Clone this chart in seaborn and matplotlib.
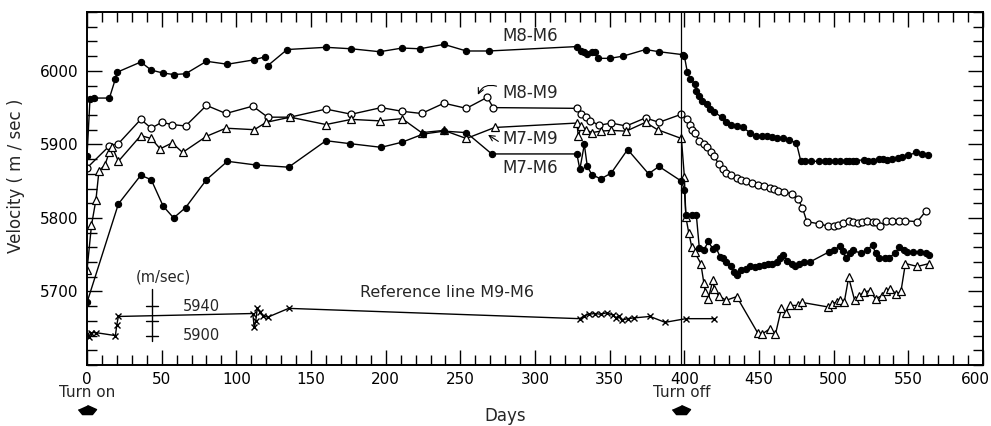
import numpy as np
import pandas as pd
import matplotlib
matplotlib.use('Agg')
import matplotlib.pyplot as plt
from matplotlib.ticker import MultipleLocator
from matplotlib.transforms import ScaledTranslation
import seaborn as sns

# Velocity (m/sec) between gauges vs days after turn on
m8m6_days = [0, 2, 5, 15, 19, 20, 36, 43, 51, 58, 66, 80, 94, 112, 119,
             121, 134, 160, 177, 196, 211, 223, 239, 254, 269,
             328, 331, 333, 335, 338, 340, 342, 350, 359, 374,
             383, 399, 400, 402, 404, 407, 408, 410, 412, 415,
             417, 420, 425, 428, 431, 435, 439, 444, 448, 452,
             455, 459, 462, 466, 470, 475, 478, 481, 485, 490,
             494, 497, 501, 504, 508, 510, 513, 515, 520, 523,
             526, 530, 533, 536, 539, 543, 546, 550, 555, 559, 563]
m8m6_vel = [5884, 5962, 5963, 5963, 5989, 5998, 6012, 6001, 5997, 5995, 5996, 6013, 6009, 6015, 6019,
            6007, 6029, 6032, 6030, 6026, 6031, 6030, 6036, 6027, 6027,
            6033, 6027, 6026, 6023, 6025, 6026, 6017, 6017, 6020, 6029,
            6026, 6022, 6020, 5998, 5989, 5982, 5973, 5966, 5959, 5955,
            5948, 5944, 5937, 5930, 5927, 5925, 5923, 5916, 5911, 5912,
            5911, 5910, 5909, 5909, 5906, 5902, 5877, 5877, 5877, 5877,
            5878, 5877, 5878, 5878, 5877, 5877, 5878, 5878, 5879, 5878,
            5878, 5880, 5880, 5879, 5880, 5882, 5883, 5885, 5889, 5887, 5886]
m8m6_break = 121  # line restarts here

m8m9_days = [0, 15, 21, 36, 43, 50, 57, 66, 80, 93,
             111, 121, 136, 160, 177, 197, 211, 224, 239, 254,
             268, 272, 328, 331, 334, 337, 343, 351, 361, 374,
             383, 398, 402, 404, 405, 407, 410, 413, 415, 418,
             420, 423, 426, 428, 431, 435, 438, 441, 445, 449,
             453, 457, 460, 463, 467, 472, 476, 479, 482, 490,
             496, 500, 503, 506, 510, 513, 516, 519, 522, 526,
             528, 531, 535, 539, 544, 548, 556, 562]
m8m9_vel = [5868, 5898, 5901, 5934, 5922, 5930, 5927, 5925, 5953, 5942,
            5952, 5937, 5937, 5948, 5941, 5950, 5945, 5942, 5956, 5949,
            5964, 5950, 5949, 5941, 5937, 5932, 5926, 5929, 5925, 5936,
            5930, 5941, 5934, 5927, 5920, 5916, 5904, 5900, 5896, 5890,
            5884, 5873, 5866, 5861, 5858, 5854, 5852, 5850, 5848, 5845,
            5843, 5841, 5839, 5836, 5835, 5833, 5826, 5814, 5795, 5792,
            5789, 5789, 5791, 5793, 5796, 5794, 5793, 5795, 5796, 5794,
            5795, 5789, 5796, 5796, 5796, 5796, 5795, 5810]

m7m9_days = [0, 3, 6, 8, 12, 15, 17, 21, 36, 43,
             49, 57, 64, 80, 93, 112, 120, 136, 160, 177,
             196, 211, 224, 239, 254, 273, 328, 329, 331, 334,
             338, 344, 351, 361, 374, 382, 398, 400, 401, 403,
             405, 407, 411, 413, 414, 416, 419, 420, 423, 428,
             435, 449, 452, 457, 461, 465, 468, 471, 476, 479,
             496, 499, 502, 504, 507, 510, 514, 517, 520, 524,
             528, 532, 535, 538, 542, 545, 548, 556, 564]
m7m9_vel = [5729, 5790, 5825, 5864, 5872, 5890, 5896, 5877, 5912, 5908,
            5894, 5902, 5889, 5911, 5922, 5920, 5930, 5937, 5927, 5934,
            5932, 5935, 5916, 5919, 5908, 5923, 5929, 5911, 5925, 5920,
            5916, 5918, 5919, 5918, 5930, 5920, 5908, 5856, 5801, 5779,
            5760, 5753, 5738, 5712, 5699, 5690, 5715, 5703, 5694, 5688,
            5693, 5644, 5642, 5649, 5642, 5677, 5671, 5681, 5681, 5685,
            5679, 5683, 5686, 5689, 5685, 5719, 5688, 5694, 5699, 5701,
            5690, 5694, 5700, 5704, 5696, 5700, 5738, 5734, 5738]

m7m6_days = [0, 21, 36, 43, 51, 58, 66, 80, 94, 113,
             135, 160, 176, 197, 211, 225, 239, 254, 271, 328,
             330, 333, 335, 338, 344, 351, 362, 376, 383, 398,
             400, 401, 405, 408, 410, 413, 416, 419, 421, 424,
             426, 428, 431, 433, 435, 438, 441, 444, 447, 450,
             453, 456, 459, 462, 464, 466, 469, 472, 474, 477,
             480, 484, 497, 500, 504, 506, 508, 511, 513, 518,
             522, 526, 528, 530, 534, 537, 541, 544, 547, 549,
             553, 558, 562, 564]
m7m6_vel = [5685, 5819, 5858, 5852, 5816, 5800, 5814, 5852, 5877, 5872,
            5869, 5905, 5901, 5896, 5903, 5914, 5918, 5916, 5887, 5887,
            5866, 5900, 5870, 5859, 5853, 5861, 5893, 5860, 5870, 5850,
            5838, 5804, 5804, 5804, 5759, 5756, 5768, 5758, 5760, 5747,
            5745, 5740, 5735, 5727, 5723, 5729, 5731, 5734, 5733, 5735,
            5736, 5737, 5737, 5740, 5745, 5749, 5742, 5738, 5735, 5737,
            5740, 5740, 5754, 5756, 5762, 5755, 5745, 5752, 5756, 5752,
            5756, 5763, 5752, 5746, 5746, 5746, 5752, 5760, 5756, 5754,
            5754, 5754, 5752, 5750]

# reference line M9-M6, read against its own small scale
ref_days = [0, 1, 3, 6, 19, 20, 21, 111, 112, 113, 114, 116, 118, 121, 135,
            330, 333, 336, 340, 344, 348, 352, 354, 356, 358, 362, 366,
            377, 387, 401, 420]
ref_vel = [5902, 5898, 5904, 5904, 5900, 5915, 5926, 5930, 5911, 5920, 5937, 5932, 5927, 5925, 5937,
           5923, 5927, 5929, 5930, 5929, 5931, 5928, 5924, 5927, 5921, 5923, 5924,
           5926, 5918, 5923, 5923]
ref_scale_ticks = [5900, 5920, 5940]
ref_offset = 260  # scale 5900 sits at 5640 on the main axis

turn_on_day = 0
turn_off_day = 398

sns.set_style('ticks')
plt.rcParams['font.family'] = ['DejaVu Sans']
plt.rcParams['axes.edgecolor'] = 'black'
plt.rcParams['axes.linewidth'] = 1.4

fig = plt.figure(figsize=(9.91, 4.26), dpi=100)
ax = fig.add_axes([0.0878, 0.1432, 0.9042, 0.8286])

line_kw = dict(color='k', lw=1.0, estimator=None, sort=False, legend=False)

df86 = pd.DataFrame({'day': m8m6_days, 'vel': m8m6_vel})
df86['seg'] = (df86['day'] >= m8m6_break).astype(int)
sns.lineplot(data=df86, x='day', y='vel', units='seg', ax=ax, marker='o', ms=4.5,
             mfc='k', mec='k', mew=0.8, **line_kw)
sns.lineplot(x=m8m9_days, y=m8m9_vel, ax=ax, marker='o', ms=5, mfc='white',
             mec='k', mew=0.9, **line_kw)
sns.lineplot(x=m7m9_days, y=m7m9_vel, ax=ax, marker='^', ms=5.5, mfc='white',
             mec='k', mew=0.9, **line_kw)
sns.lineplot(x=m7m6_days, y=m7m6_vel, ax=ax, marker='o', ms=4.5, mfc='k',
             mec='k', mew=0.8, **line_kw)
sns.lineplot(x=ref_days, y=np.array(ref_vel) - ref_offset, ax=ax, marker='x',
             ms=5, mec='k', mew=1.0, **line_kw)

# small scale for the reference line
sx = 43.5
ax.plot([sx, sx], [5633, 5704], color='k', lw=1.0)
for t in ref_scale_ticks:
    ax.plot([sx - 4, sx + 4], [t - ref_offset] * 2, color='k', lw=1.0)
ax.text(64, 5940 - ref_offset, '5940', fontsize=10.5, ha='left', va='center')
ax.text(64, 5900 - ref_offset, '5900', fontsize=10.5, ha='left', va='center')
ax.text(51, 5720, '(m/sec)', fontsize=10.5, ha='center', va='center')

ax.axvline(turn_off_day, color='k', lw=0.9)

ax.text(278, 6048, 'M8-M6', fontsize=12, ha='left', va='center')
ax.text(278, 5970, 'M8-M9', fontsize=12, ha='left', va='center')
ax.text(278, 5907, 'M7-M9', fontsize=12, ha='left', va='center')
ax.text(278, 5868, 'M7-M6', fontsize=12, ha='left', va='center')
ax.text(183, 5699, 'Reference line M9-M6', fontsize=11.5, ha='left', va='center')
ax.annotate('', xy=(261, 5964), xytext=(276, 5978),
            arrowprops=dict(arrowstyle='->', color='k', lw=0.8,
                            connectionstyle='arc3,rad=0.5'))
ax.annotate('', xy=(267, 5915), xytext=(277, 5902),
            arrowprops=dict(arrowstyle='->', color='k', lw=0.8))

ax.set_xlim(0, 600)
ax.set_ylim(5600, 6080)
ax.set_xticks(np.arange(0, 601, 50))
ax.xaxis.set_minor_locator(MultipleLocator(10))
ax.set_yticks([5700, 5800, 5900, 6000])
ax.yaxis.set_minor_locator(MultipleLocator(20))
ax.tick_params(which='both', direction='in', top=True, right=True, colors='k',
               labelsize=11, width=1.0)
ax.tick_params(which='major', length=11)
ax.tick_params(which='minor', length=7)
ax.tick_params(axis='x', pad=5)
ax.tick_params(axis='y', pad=6)

# "600" sits a little left of its tick so it stays inside the figure
fig.canvas.draw()
for lab in ax.get_xticklabels():
    if lab.get_text() == '600':
        lab.set_transform(lab.get_transform() + ScaledTranslation(-0.08, 0, fig.dpi_scale_trans))

ax.set_xlabel('Days', fontsize=12)
ax.xaxis.set_label_coords(0.4665, -0.118)
ax.set_ylabel('Velocity ( m / sec )', fontsize=12)
ax.yaxis.set_label_coords(-0.069, 0.535)

# turn on / turn off markers below the axis
trans = ax.get_xaxis_transform()
arrow_shape = [(0, 0.55), (1, 0.1), (0.55, -0.45), (-0.55, -0.45), (-1, 0.1)]
for d, lab in [(turn_on_day, 'Turn on'), (turn_off_day, 'Turn off')]:
    ax.text(d, -0.079, lab, transform=trans, fontsize=11, ha='center', va='center')
    ax.plot([d], [-0.127], transform=trans, marker=arrow_shape, ms=13,
            color='k', clip_on=False, ls='none')

fig.savefig('out.png', dpi=100)
